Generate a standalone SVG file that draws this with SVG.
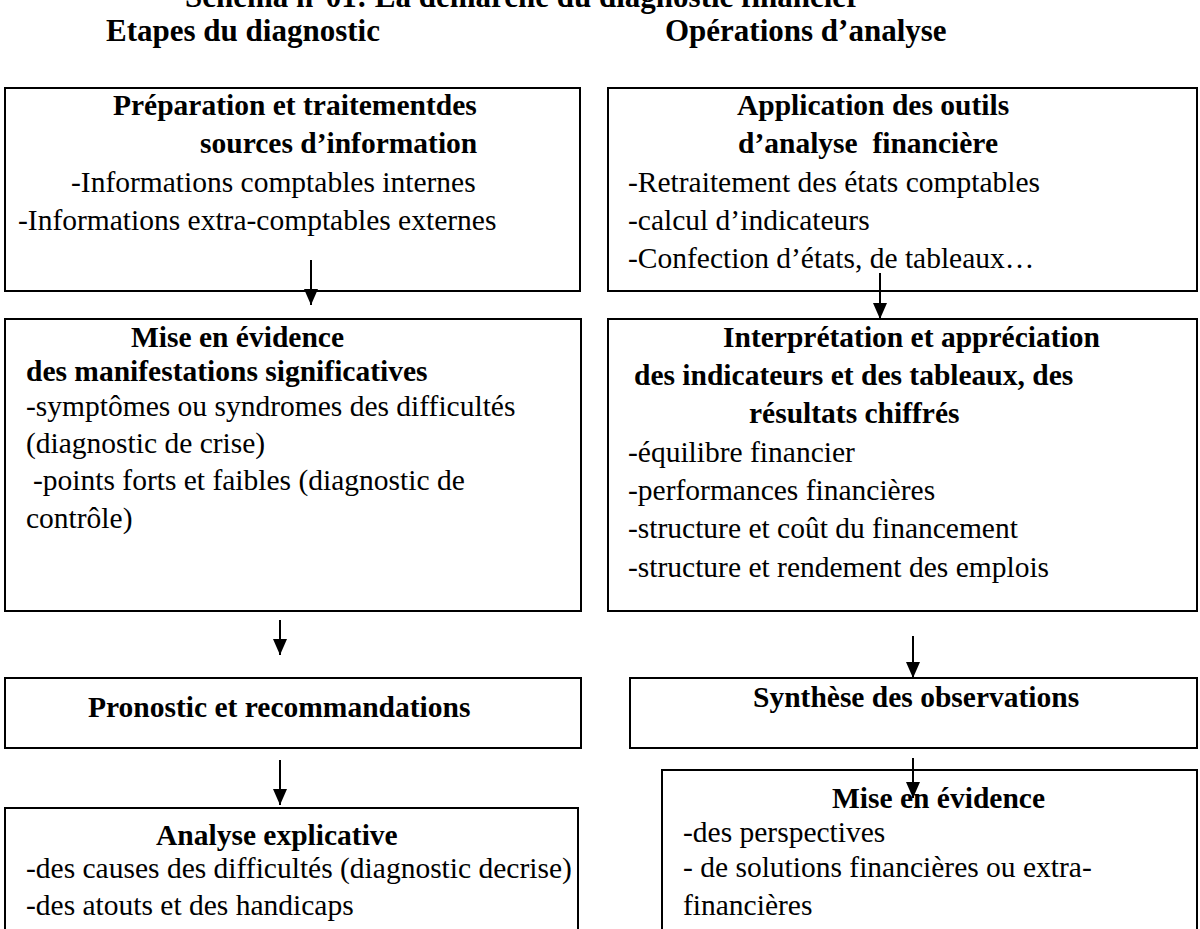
<svg xmlns="http://www.w3.org/2000/svg" width="1200" height="929" viewBox="0 0 1200 929">
<style>
text{font-family:"Liberation Serif","Times New Roman",serif;font-size:29.5px;fill:#000}
.b{font-weight:bold}
.h{font-weight:bold;font-size:31px}
.box{fill:#fff;stroke:#000;stroke-width:2}
.con{stroke:#000;stroke-width:2;fill:none}
</style>
<defs>
<marker id="ah" markerUnits="userSpaceOnUse" markerWidth="18" markerHeight="18" refX="16" refY="8" orient="auto">
<path d="M0,1 L16,8 L0,15 Z" fill="#000"/>
</marker>
</defs>
<rect width="1200" height="929" fill="#fff"/>
<g id="titles">
<text class="h" x="185" y="7">Schéma n°01: La démarche du diagnostic financier</text>
<text class="h" x="106" y="41">Etapes du diagnostic</text>
<text class="h" x="665" y="41">Opérations d’analyse</text>
</g>
<g id="n-preparation">
<rect class="box" x="5" y="88" width="575" height="203"/>
<text class="b" x="113" y="115">Préparation et traitementdes</text>
<text class="b" x="200" y="153">sources d’information</text>
<text x="71" y="192">-Informations comptables internes</text>
<text x="18" y="230">-Informations extra-comptables externes</text>
</g>
<g id="n-application">
<rect class="box" x="608" y="88" width="589" height="203"/>
<text class="b" x="737" y="115">Application des outils</text>
<text class="b" x="738" y="153" xml:space="preserve">d’analyse  financière</text>
<text x="628" y="192">-Retraitement des états comptables</text>
<text x="628" y="230">-calcul d’indicateurs</text>
<text x="628" y="268">-Confection d’états, de tableaux…</text>
</g>
<g id="n-mise-evidence-left">
<rect class="box" x="5" y="319" width="576" height="292"/>
<text class="b" x="131" y="347">Mise en évidence</text>
<text class="b" x="26" y="381">des manifestations significatives</text>
<text x="26" y="416">-symptômes ou syndromes des difficultés</text>
<text x="26" y="453">(diagnostic de crise)</text>
<text x="33" y="490">-points forts et faibles (diagnostic de</text>
<text x="26" y="528">contrôle)</text>
</g>
<g id="n-interpretation">
<rect class="box" x="608" y="319" width="589" height="292"/>
<text class="b" x="723" y="347">Interprétation et appréciation</text>
<text class="b" x="634" y="385">des indicateurs et des tableaux, des</text>
<text class="b" x="749" y="423">résultats chiffrés</text>
<text x="628" y="462">-équilibre financier</text>
<text x="628" y="500">-performances financières</text>
<text x="628" y="538">-structure et coût du financement</text>
<text x="628" y="577">-structure et rendement des emplois</text>
</g>
<g id="n-pronostic">
<rect class="box" x="5" y="678" width="576" height="70"/>
<text class="b" x="88" y="717">Pronostic et recommandations</text>
</g>
<g id="n-synthese">
<rect class="box" x="630" y="678" width="567" height="70"/>
<text class="b" x="753" y="707">Synthèse des observations</text>
</g>
<g id="n-analyse">
<rect class="box" x="5" y="808" width="573" height="140"/>
<text class="b" x="156" y="845">Analyse explicative</text>
<text x="26" y="878">-des causes des difficultés (diagnostic decrise)</text>
<text x="26" y="915">-des atouts et des handicaps</text>
</g>
<g id="n-mise-evidence-right">
<rect class="box" x="662" y="770" width="535" height="180"/>
<text class="b" x="832" y="808">Mise en évidence</text>
<text x="683" y="842">-des perspectives</text>
<text x="683" y="877">- de solutions financières ou extra-</text>
<text x="683" y="915">financières</text>
</g>
<g id="connectors">
<line class="con" x1="311" y1="260" x2="311" y2="305" marker-end="url(#ah)"/>
<line class="con" x1="880" y1="273" x2="880" y2="319" marker-end="url(#ah)"/>
<line class="con" x1="280" y1="620" x2="280" y2="655" marker-end="url(#ah)"/>
<line class="con" x1="913" y1="636" x2="913" y2="678" marker-end="url(#ah)"/>
<line class="con" x1="280" y1="760" x2="280" y2="805" marker-end="url(#ah)"/>
<line class="con" x1="913" y1="758" x2="913" y2="798" marker-end="url(#ah)"/>
</g>
</svg>
